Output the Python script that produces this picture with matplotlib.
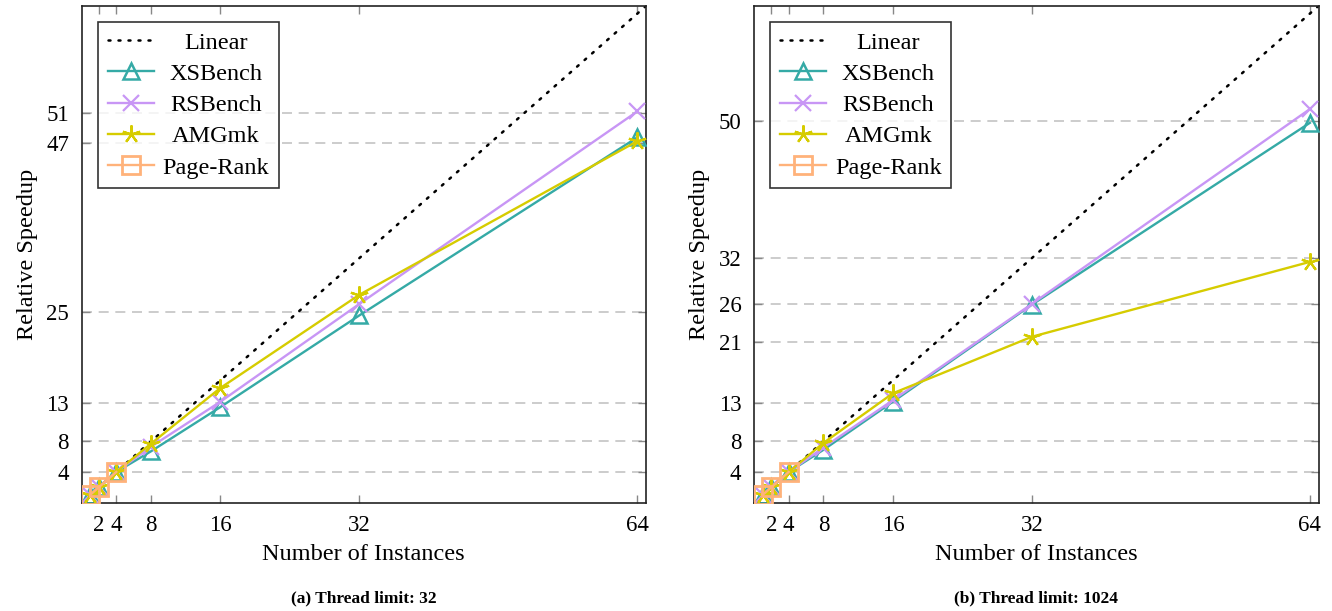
import matplotlib
matplotlib.use("Agg")
import matplotlib.pyplot as plt

plt.rcParams['font.family'] = ['Liberation Serif', 'DejaVu Serif']

instances = [1, 2, 4, 8, 16, 32, 64]
linear_x = [0, 65]
linear_y = [0, 65]

# (a) Thread limit: 32
xs_a = [1, 2, 4, 6.7, 12.5, 24.5, 47.8]
rs_a = [1, 2, 4, 7.3, 13.2, 26.0, 51.2]
amg_a = [1, 2, 4, 7.7, 15.0, 27.2, 47.3]
# (b) Thread limit: 1024
xs_b = [1, 2, 4, 6.9, 13.2, 25.9, 49.7]
rs_b = [1, 2, 4, 7.2, 13.4, 26.0, 51.5]
amg_b = [1, 2, 4, 7.8, 14.3, 21.7, 31.5]
pr_x = [1, 2, 4]
pr_y = [1, 2, 4]

yticks_a = [4, 8, 13, 25, 47, 51]
yticks_b = [4, 8, 13, 21, 26, 32, 50]
xticks = [2, 4, 8, 16, 32, 64]
captions = ["(a) Thread limit: 32", "(b) Thread limit: 1024"]

C_XS = '#35aaa6'
C_RS = '#c896f5'
C_AMG = '#d6cc00'
C_PR = '#ffb27a'

W, H = 1332, 611
fig = plt.figure(figsize=(W / 100, H / 100), dpi=100)

def make(ax_left, xs, rs, amg, yticks, caption):
    ax = fig.add_axes([ax_left / W, (H - 502.5) / H, 564.5 / W, 496.5 / H])
    ax.set_xlim(0, 65)
    ax.set_ylim(0, 65)
    for y in yticks:
        ax.axhline(y, color='#c4c4c4', lw=1.2, ls=(0, (6, 4)), zorder=0)
    ax.plot(linear_x, linear_y, color='black', lw=1.8, ls=(0, (0.8, 3.2)),
            dash_capstyle='round', label='Linear', zorder=2)
    ax.plot(instances, xs, color=C_XS, lw=1.7, marker='^', ms=11, mfc='none',
            mew=1.8, label='XSBench', zorder=3)
    ax.plot(instances, rs, color=C_RS, lw=1.7, marker='x', ms=11, mew=1.6,
            label='RSBench', zorder=3)
    ax.plot(instances, amg, color=C_AMG, lw=1.7, marker=(5, 2, 0), ms=13,
            mew=1.6, label='AMGmk', zorder=4)
    ax.plot(pr_x, pr_y, color=C_PR, lw=1.7, marker='s', ms=13, mfc='none',
            mew=2.0, label='Page-Rank', zorder=5)
    ax.set_xticks(xticks)
    ax.set_yticks(yticks)
    ax.tick_params(direction='in', length=6, width=1, colors='#888888',
                   labelcolor='black', labelsize=16.5, top=True, right=True)
    ax.tick_params(axis='x', pad=9)
    ax.tick_params(axis='y', pad=9)
    for s in ax.spines.values():
        s.set_color('#222222')
        s.set_linewidth(1.2)
    ax.set_xlabel('Number of Instances', fontsize=17.5, labelpad=6)
    ax.set_ylabel('Relative Speedup', fontsize=17.5, labelpad=6)
    leg = ax.legend(loc='upper left', bbox_to_anchor=(16.5 / 564.5, 1 - 16 / 496.5),
                    fontsize=17.5, frameon=True, fancybox=False, edgecolor='black',
                    handlelength=1.9, handletextpad=0.35, labelspacing=0.38,
                    borderpad=0.4, borderaxespad=0)
    leg.get_frame().set_linewidth(1.2)
    fig.text((ax_left + 564.5 / 2) / W, 1 - 598 / H, caption, ha='center', va='center',
             fontsize=12.5, fontweight='bold')
    return leg

legs = [make(81.5, xs_a, rs_a, amg_a, yticks_a, captions[0]),
        make(754, xs_b, rs_b, amg_b, yticks_b, captions[1])]

fig.canvas.draw()
r = fig.canvas.get_renderer()
for leg in legs:
    texts = leg.get_texts()
    widths = [t.get_window_extent(r).width for t in texts]
    mw = max(widths)
    for t, w in zip(texts, widths):
        t.set_x((mw - w) / 2)

fig.savefig('out.png', dpi=100)
